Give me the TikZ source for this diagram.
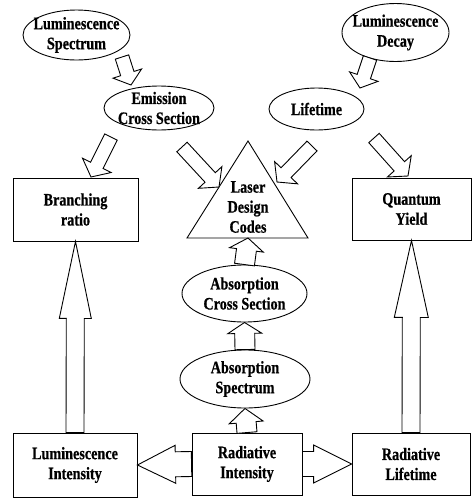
\documentclass[tikz,border=0pt]{standalone}
\usepackage{fontspec}
\newfontfamily\lblfont{Liberation Serif}[FakeStretch=0.81, FakeBold=0.6]
\usetikzlibrary{shapes.geometric,calc}
\tikzset{
  lbl/.style={font=\lblfont\bfseries\fontsize{17.5}{20}\selectfont, align=center, inner sep=0pt},
  ellshape/.style={draw, ellipse, line width=0.9pt, inner sep=0pt},
  box/.style={lbl, draw, rectangle, line width=0.9pt},
  barr/.style={draw, line width=0.9pt, fill=white, line join=miter},
}
\newcommand\blockarrow[5]{%
  \coordinate (ba-c) at ($(#2)!#5!(#1)$);
  \draw[barr] ($(#1)!#3!90:(#2)$) -- ($(ba-c)!#3!-90:(#1)$) -- ($(ba-c)!#4!-90:(#1)$) -- (#2)
    -- ($(ba-c)!#4!90:(#1)$) -- ($(ba-c)!#3!90:(#1)$) -- ($(#1)!#3!-90:(#2)$) -- cycle;}
\begin{document}
\begin{tikzpicture}[x=1pt,y=-1pt]
\useasboundingbox (0,0) rectangle (472,499);
% ellipses
\node[ellshape, minimum width=107pt, minimum height=50pt] (lspec) at (76.5,35) {};
\node[lbl] (lspec-t) at (lspec) {Luminescence\\Spectrum};
\node[ellshape, minimum width=110pt, minimum height=44pt] (ecs) at (159,108) {};
\node[lbl] (ecs-t) at (ecs) {Emission\\Cross Section};
\node[ellshape, minimum width=107pt, minimum height=58pt] (ldec) at (395.5,32.5) {};
\node[lbl] (ldec-t) at (ldec) {Luminescence\\Decay};
\node[ellshape, minimum width=95pt, minimum height=42pt] (life) at (316.5,109) {};
\node[lbl] (life-t) at (life) {Lifetime};
\node[ellshape, minimum width=125pt, minimum height=57pt] (across) at (244.5,293.5) {};
\node[lbl] (across-t) at (across) {Absorption\\Cross Section};
\node[ellshape, minimum width=130pt, minimum height=58pt] (aspec) at (245,379) {};
\node[lbl] (aspec-t) at (aspec) {Absorption\\Spectrum};
% boxes
\node[box, minimum width=125pt, minimum height=63pt] (br) at (75.5,209.5) {Branching\\ratio};
\node[box, minimum width=119pt, minimum height=62pt] (qy) at (411.5,209) {Quantum\\Yield};
\node[box, minimum width=124pt, minimum height=64pt] (lint) at (75,465) {Luminescence\\Intensity};
\node[box, minimum width=110pt, minimum height=62pt] (rint) at (247,464) {Radiative\\Intensity};
\node[box, minimum width=118pt, minimum height=62pt] (rlife) at (411,464) {Radiative\\Lifetime};
% triangle
\coordinate (tri-a) at (248,141);
\coordinate (tri-l) at (187,238);
\coordinate (tri-r) at (308,238);
\coordinate (tri-b) at (248,238);
\draw[line width=0.9pt, line join=miter] (tri-a) -- (tri-l) -- (tri-r) -- cycle;
\node[lbl] (tri) at (248,207) {Laser\\Design\\Codes};
% straight block arrows
\blockarrow{lint.north}{br.south}{9pt}{16pt}{77pt}
\blockarrow{rlife.north}{qy.south}{9pt}{17pt}{77pt}
\blockarrow{rint.west}{lint.east}{12.5pt}{19pt}{38pt}
\blockarrow{rint.east}{rlife.west}{12.5pt}{19pt}{38pt}
\blockarrow{rint.north}{aspec.south}{10pt}{17pt}{14pt}
\blockarrow{aspec.north}{across.south}{10pt}{17pt}{11pt}
\blockarrow{across.north}{tri-b}{10pt}{17pt}{12pt}
% diagonal block arrows
\coordinate (d1s) at (122,57);  \coordinate (d1e) at (131,85);
\coordinate (d2s) at (111,137); \coordinate (d2e) at (91,177);
\coordinate (d3s) at (182,147); \coordinate (d3e) at (219,187);
\coordinate (d4s) at (312,146); \coordinate (d4e) at (277,182);
\coordinate (d5s) at (374,138); \coordinate (d5e) at (408,176);
\coordinate (d6s) at (370,58);  \coordinate (d6e) at (360,88);
\blockarrow{d1s}{d1e}{7pt}{15pt}{12pt}
\blockarrow{d2s}{d2e}{7pt}{16pt}{13pt}
\blockarrow{d3s}{d3e}{7pt}{16pt}{13pt}
\blockarrow{d4s}{d4e}{7pt}{16pt}{13pt}
\blockarrow{d5s}{d5e}{7pt}{16pt}{13pt}
\blockarrow{d6s}{d6e}{7pt}{15pt}{12pt}
\end{tikzpicture}
\end{document}
